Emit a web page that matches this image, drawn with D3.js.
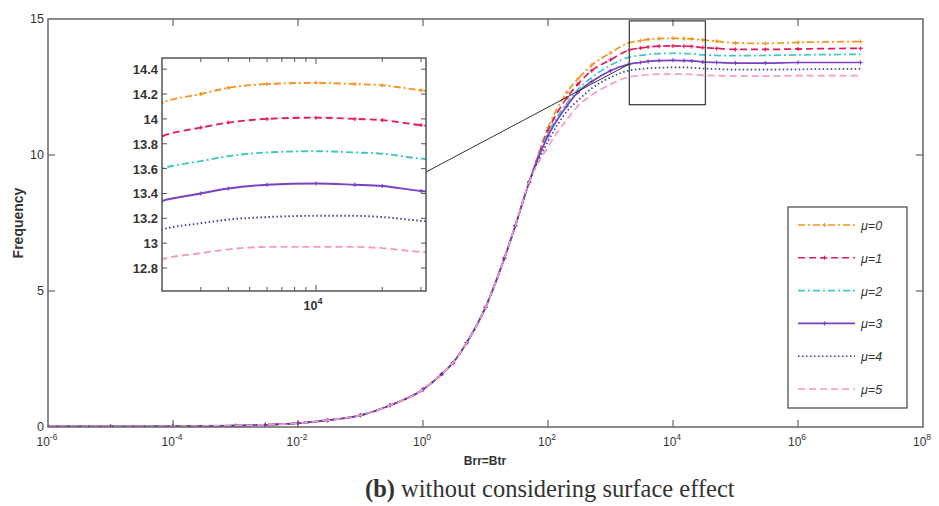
<!DOCTYPE html>
<html>
<head>
<meta charset="utf-8">
<script src="https://cdn.jsdelivr.net/npm/d3@7"></script>
<style>
  body { margin: 0; background: #fff; }
  text { font-family: "Liberation Sans", Arial, sans-serif; fill: #333; }
</style>
</head>
<body>
<svg id="chart" width="939" height="506"></svg>
<script>
// Brr=Btr sample points
const brr = [1e-6, 1e-5, 1e-4, 1e-3, 3e-3, 1e-2, 3e-2, 0.1, 0.3, 1, 2, 3, 5, 10, 20, 30, 50,
  100, 200, 300, 500, 1000, 2000, 3000, 4000, 6000, 1e4, 15000, 2e4, 3e4, 5e4, 1e5, 3e5, 1e6, 1e7];

// shared rising part (curves overlap below ~10^1.7)
const low = [0.02, 0.02, 0.03, 0.05, 0.08, 0.14, 0.25, 0.43, 0.8, 1.38, 1.95, 2.35, 3.1, 4.4, 6.2, 7.4, 9.0];

const mu0 = low.concat([11.0, 12.3, 12.8, 13.3, 13.75, 14.13, 14.2, 14.25, 14.28, 14.29, 14.28, 14.27, 14.23, 14.18, 14.12, 14.1, 14.14, 14.17]);
const mu1 = low.concat([10.9, 12.1, 12.6, 13.1, 13.5, 13.86, 13.93, 13.97, 14.0, 14.01, 14.0, 13.99, 13.95, 13.92, 13.88, 13.88, 13.9, 13.92]);
const mu2 = low.concat([10.8, 11.9, 12.4, 12.85, 13.3, 13.6, 13.66, 13.7, 13.73, 13.74, 13.73, 13.72, 13.68, 13.66, 13.65, 13.66, 13.68, 13.7]);
const mu3 = low.concat([10.7, 11.8, 12.3, 12.7, 13.1, 13.34, 13.4, 13.44, 13.47, 13.48, 13.47, 13.46, 13.42, 13.4, 13.38, 13.38, 13.4, 13.4]);
const mu4 = low.concat([10.5, 11.6, 12.0, 12.45, 12.85, 13.11, 13.16, 13.19, 13.21, 13.22, 13.22, 13.21, 13.18, 13.16, 13.14, 13.14, 13.15, 13.17]);
const mu5 = low.concat([10.3, 11.3, 11.8, 12.2, 12.6, 12.87, 12.92, 12.95, 12.97, 12.97, 12.97, 12.96, 12.93, 12.92, 12.9, 12.9, 12.92, 12.92]);

const names = ["\u03bc=0", "\u03bc=1", "\u03bc=2", "\u03bc=3", "\u03bc=4", "\u03bc=5"];
const values = [mu0, mu1, mu2, mu3, mu4, mu5];
const colors = ["#f7931e", "#e8195a", "#3fc6c8", "#7b3fc4", "#3f3aa6", "#f39ac6"];
const dashes = ["7,3,2,3", "7,4", "7,3,2,3", null, "1.5,2.5", "7,4"];
const marked = [true, true, false, true, false, false];

const xTicks = [1e-6, 1e-4, 1e-2, 1e0, 1e2, 1e4, 1e6, 1e8];
const yTicks = [0, 5, 10, 15];
const insetYTicks = [12.8, 13, 13.2, 13.4, 13.6, 13.8, 14, 14.2, 14.4];
const insetXMinor = [3000, 4000, 5000, 6000, 7000, 8000, 9000, 20000, 30000];

// zoomed window (data units) and inset domain
const zoomX = [2000, 33000], zoomY = [11.85, 14.93];
const insetX = [2000, 31600], insetY = [12.615, 14.49];

const svg = d3.select("#chart");
const m = { left: 48, right: 16, top: 19, bottom: 79 };
const W = 939 - m.left - m.right, H = 506 - m.top - m.bottom;

const x = d3.scaleLog().domain([1e-6, 1e8]).range([0, W]);
const y = d3.scaleLinear().domain([0, 15]).range([H, 0]);

const g = svg.append("g").attr("transform", `translate(${m.left},${m.top})`);

svg.append("defs").append("clipPath").attr("id", "clipMain")
  .append("rect").attr("width", W).attr("height", H);

const series = values.map((v, i) => ({ i, pts: brr.map((b, k) => [b, v[k]]) }));

function drawSeries(sel, xs, ys, lw, ms) {
  const line = d3.line().x(d => xs(d[0])).y(d => ys(d[1])).curve(d3.curveMonotoneX);
  series.forEach(s => {
    sel.append("path").attr("d", line(s.pts))
      .attr("fill", "none").attr("stroke", colors[s.i]).attr("stroke-width", lw)
      .attr("stroke-dasharray", dashes[s.i]);
    if (marked[s.i]) {
      sel.selectAll(null).data(s.pts).join("path")
        .attr("d", d => `M${xs(d[0]) - ms},${ys(d[1])}h${2 * ms}M${xs(d[0])},${ys(d[1]) - ms}v${2 * ms}`)
        .attr("stroke", colors[s.i]).attr("stroke-width", 1.2);
    }
  });
}

const plot = g.append("g").attr("clip-path", "url(#clipMain)");
drawSeries(plot, x, y, 1.7, 2);

// frame and ticks
const axisColor = "#666";
g.append("rect").attr("width", W).attr("height", H)
  .attr("fill", "none").attr("stroke", axisColor).attr("stroke-width", 1.5);

xTicks.slice(1, -1).forEach(t => {
  g.append("line").attr("x1", x(t)).attr("x2", x(t)).attr("y1", H).attr("y2", H - 7)
    .attr("stroke", axisColor).attr("stroke-width", 1.2);
  g.append("line").attr("x1", x(t)).attr("x2", x(t)).attr("y1", 0).attr("y2", 7)
    .attr("stroke", axisColor).attr("stroke-width", 1.2);
});
yTicks.slice(1, -1).forEach(t => {
  g.append("line").attr("x1", 0).attr("x2", 7).attr("y1", y(t)).attr("y2", y(t))
    .attr("stroke", axisColor).attr("stroke-width", 1.2);
  g.append("line").attr("x1", W).attr("x2", W - 7).attr("y1", y(t)).attr("y2", y(t))
    .attr("stroke", axisColor).attr("stroke-width", 1.2);
});

xTicks.forEach(t => {
  const tx = g.append("text").attr("x", x(t) - 1).attr("y", H + 19)
    .attr("text-anchor", "middle").attr("font-size", 12);
  tx.append("tspan").text("10");
  tx.append("tspan").attr("dy", -6).attr("font-size", 8.5).text(Math.round(Math.log10(t)));
});
yTicks.forEach(t => {
  g.append("text").attr("x", -4).attr("y", y(t) + 4).attr("text-anchor", "end")
    .attr("font-size", 12.5).text(t);
});

g.append("text").attr("x", 437).attr("y", H + 38).attr("text-anchor", "middle")
  .attr("font-size", 12).attr("font-weight", "bold").attr("fill", "#111").text("Brr=Btr");
g.append("text").attr("transform", `translate(-25,${H / 2}) rotate(-90)`)
  .attr("text-anchor", "middle").attr("font-size", 14).attr("font-weight", "bold")
  .attr("fill", "#111").text("Frequency");

// zoom window on main plot
const zx0 = x(zoomX[0]), zx1 = x(zoomX[1]), zy0 = y(zoomY[1]), zy1 = y(zoomY[0]);
g.append("rect").attr("x", zx0).attr("y", zy0).attr("width", zx1 - zx0).attr("height", zy1 - zy0)
  .attr("fill", "none").attr("stroke", "#444").attr("stroke-width", 1.3);

// inset
const inset = { x: 162, y: 58, w: 264, h: 233 };
const ix = d3.scaleLog().domain(insetX).range([0, inset.w]);
const iy = d3.scaleLinear().domain(insetY).range([inset.h, 0]);
const gi = svg.append("g").attr("transform", `translate(${inset.x},${inset.y})`);

svg.select("defs").append("clipPath").attr("id", "clipInset")
  .append("rect").attr("width", inset.w).attr("height", inset.h);

gi.append("rect").attr("width", inset.w).attr("height", inset.h).attr("fill", "#fff");
drawSeries(gi.append("g").attr("clip-path", "url(#clipInset)"), ix, iy, 1.9, 2);
gi.append("rect").attr("width", inset.w).attr("height", inset.h)
  .attr("fill", "none").attr("stroke", "#555").attr("stroke-width", 1.5);

insetXMinor.concat([1e4]).forEach(t => {
  const len = t === 1e4 ? 6 : 4;
  gi.append("line").attr("x1", ix(t)).attr("x2", ix(t)).attr("y1", inset.h).attr("y2", inset.h - len)
    .attr("stroke", "#555");
  gi.append("line").attr("x1", ix(t)).attr("x2", ix(t)).attr("y1", 0).attr("y2", len)
    .attr("stroke", "#555");
});
insetYTicks.forEach(t => {
  gi.append("line").attr("x1", 0).attr("x2", 5).attr("y1", iy(t)).attr("y2", iy(t)).attr("stroke", "#555");
  gi.append("line").attr("x1", inset.w).attr("x2", inset.w - 5).attr("y1", iy(t)).attr("y2", iy(t)).attr("stroke", "#555");
  gi.append("text").attr("x", -4).attr("y", iy(t) + 5).attr("text-anchor", "end")
    .attr("font-size", 13).attr("font-weight", "bold").attr("fill", "#222").text(t);
});
const il = gi.append("text").attr("x", ix(1e4) - 3).attr("y", inset.h + 19)
  .attr("text-anchor", "middle").attr("font-size", 12.5).attr("font-weight", "bold").attr("fill", "#222");
il.append("tspan").text("10");
il.append("tspan").attr("dy", -6).attr("font-size", 9).text("4");

// connector from inset to zoom window
svg.append("line")
  .attr("x1", inset.x + inset.w).attr("y1", 172)
  .attr("x2", m.left + zx0).attr("y2", 64)
  .attr("stroke", "#333").attr("stroke-width", 1);

// legend
const lg = svg.append("g").attr("transform", "translate(788,207)");
lg.append("rect").attr("width", 119).attr("height", 201)
  .attr("fill", "#fff").attr("stroke", "#444").attr("stroke-width", 1.2);
names.forEach((n, i) => {
  const ly = 18 + i * 32.8;
  lg.append("line").attr("x1", 10).attr("x2", 67).attr("y1", ly).attr("y2", ly)
    .attr("stroke", colors[i]).attr("stroke-width", 1.6).attr("stroke-dasharray", dashes[i]);
  if (marked[i]) {
    lg.append("path").attr("d", `M36.5,${ly - 2}v4M34.5,${ly}h4`).attr("stroke", colors[i]).attr("stroke-width", 1.2);
  }
  lg.append("text").attr("x", 73).attr("y", ly + 5).attr("font-size", 12.5)
    .attr("font-style", "italic").attr("fill", "#444").text(n);
});

// caption
const cap = svg.append("text").attr("x", 365).attr("y", 497)
  .attr("font-size", 24.5).style("font-family", "'Liberation Serif', 'Times New Roman', serif").attr("fill", "#111");
cap.append("tspan").attr("font-weight", "bold").text("(b)");
cap.append("tspan").text(" without considering surface effect");
</script>
</body>
</html>
